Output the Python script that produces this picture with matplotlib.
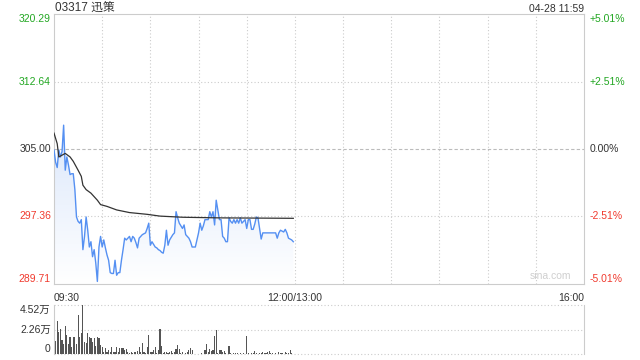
import numpy as np
import matplotlib
matplotlib.use("Agg")
import matplotlib.pyplot as plt
import matplotlib.transforms as mtransforms

plt.rcParams['font.family'] = ['Liberation Sans', 'Noto Sans CJK SC', 'DejaVu Sans']

# ---- data ----
title = "03317 迅策"
stamp = "04-28 11:59"
prev_close = 305.00
price_ticks = [289.71, 297.36, 305.00, 312.64, 320.29]
pct_labels = ["-5.01%", "-2.51%", "0.00%", "+2.51%", "+5.01%"]
time_labels = ["09:30", "12:00/13:00", "16:00"]
time_ticks = [0, 150, 330]   # session minutes (lunch break removed)

# last price, one value per minute from 09:30 to 11:59
price = [
    304.9, 303.5, 302.9, 304.9, 304.1, 304.7, 307.7, 302.6, 304.1, 303.2,
    302.1, 302.2, 302.2, 300.4, 297.3, 296.8, 296.6, 297.0, 293.6, 295.1,
    297.3, 295.8, 293.9, 294.5, 292.8, 293.6, 292.1, 290.0, 293.9, 295.1,
    293.9, 294.7, 293.8, 293.0, 292.4, 291.0, 290.9, 290.9, 292.4, 290.7,
    291.0, 291.0, 292.4, 293.6, 294.9, 294.7, 294.9, 295.1, 294.5, 295.1,
    294.9, 294.4, 293.8, 294.9, 295.1, 295.3, 295.4, 295.5, 296.0, 296.6,
    294.1, 294.5, 294.2, 293.9, 293.8, 293.6, 293.5, 293.3, 293.2, 294.1,
    295.8, 294.1, 294.7, 295.0, 295.3, 295.5, 297.9, 297.2, 296.6, 296.3,
    296.0, 296.4, 295.3, 295.1, 294.9, 294.5, 293.9, 293.9, 293.9, 294.7,
    295.5, 296.6, 295.8, 296.3, 297.0, 297.0, 297.0, 297.9, 297.3, 297.9,
    296.4, 299.2, 298.1, 297.0, 297.0, 295.1, 294.9, 294.5, 294.5, 297.2,
    296.8, 296.6, 297.0, 296.6, 297.0, 296.6, 297.2, 296.6, 296.8, 297.0,
    296.0, 297.0, 297.0, 295.9, 295.9, 296.5, 297.3, 297.2, 296.0, 294.8,
    295.5, 295.5, 295.5, 295.5, 295.5, 295.5, 295.5, 295.5, 295.5, 294.9,
    295.5, 295.8, 295.7, 295.6, 295.9, 295.5, 294.9, 294.8, 294.7, 294.5,
]

# average price line, read at its turning points
avg_minutes = [0, 2, 3, 5, 7, 10, 12, 15, 17, 18, 20, 23, 27, 29, 33, 39, 47, 58, 66, 80, 103, 149]
avg_price = [306.8, 305.6, 304.1, 304.3, 304.5, 304.1, 303.6, 302.6, 301.9, 300.9, 300.4,
             300.0, 299.2, 298.7, 298.5, 298.1, 297.8, 297.6, 297.4, 297.27, 297.2, 297.15]

# volume (shares) per minute
volume = [
    16000, 12000, 30400, 20600, 22800, 12900, 8900, 25800, 17500, 8900,
    15400, 6800, 15400, 15700, 9000, 36000, 15400, 19100, 45200, 11400,
    9800, 19100, 16000, 15100, 11400, 15100, 7700, 16000, 14500, 8300,
    6100, 2150, 5200, 2150, 3700, 1500, 6800, 2150, 2150, 6800,
    2150, 5200, 5800, 5200, 3700, 4300, 1500, 600, 1500, 900,
    2150, 1500, 2800, 6800, 1500, 10000, 1500, 900, 6800, 17500,
    2150, 1500, 3700, 6800, 900, 3700, 22900, 7600, 900, 1800,
    1800, 600, 1800, 2400, 900, 1800, 4900, 8500, 4900, 900,
    1800, 300, 900, 1800, 3900, 5500, 3900, 300, 300, 300,
    300, 300, 600, 300, 4000, 9500, 1800, 4900, 2400, 3300,
    16200, 21700, 900, 3900, 3900, 1800, 2400, 900, 300, 7600,
    900, 300, 900, 900, 900, 300, 900, 300, 900, 300,
    16200, 900, 300, 900, 900, 2400, 900, 300, 900, 900,
    1800, 900, 900, 1800, 2400, 900, 900, 300, 900, 300,
    1800, 900, 900, 300, 1800, 900, 900, 3400, 900, 300,
]
vol_ticks = [0, 22600, 45200]
vol_labels = ["0", "2.26万", "4.52万"]

GREEN = '#22a722'
RED = '#f03a2e'
DARK = '#333333'
GRID = '#cccccc'
FS = 7.5

fig = plt.figure(figsize=(6.4, 3.6), dpi=100)
ax = fig.add_axes([54 / 640, 1 - 284 / 360, 530 / 640, 270 / 360])
axv = fig.add_axes([54 / 640, 1 - 354 / 360, 530 / 640, 49 / 360])

minutes = np.arange(len(price))
ymin, ymax = price_ticks[0], price_ticks[-1]

# gradient fill under the price line
poly = ax.fill_between(minutes, price, ymin, color='none', lw=0)
grad = np.linspace(0, 1, 256).reshape(-1, 1)
img = ax.imshow(grad, extent=[0, len(price) - 1, ymin, max(price)], origin='lower',
                aspect='auto', cmap=matplotlib.colors.LinearSegmentedColormap.from_list(
                    'g', ['#ffffff', '#dbe7fb']), zorder=1)
img.set_clip_path(poly.get_paths()[0], transform=ax.transData)

ax.plot(minutes, price, color='#5590f2', lw=1.0, zorder=3)
ax.plot(avg_minutes, avg_price, color='#333333', lw=0.9, zorder=4)

ax.set_xlim(0, 330)
ax.set_ylim(ymin, ymax)

# grid
for xv in range(30, 330, 30):
    ax.axvline(xv, color=GRID, lw=0.8, ls=(0, (1, 2)), zorder=0)
for yv in price_ticks[1:-1]:
    if yv == prev_close:
        ax.axhline(yv, color='#bbbbbb', lw=0.8, ls=(0, (3, 2)), zorder=0)
    else:
        ax.axhline(yv, color=GRID, lw=0.8, ls=(0, (1, 2)), zorder=0)

for s in ax.spines.values():
    s.set_color(GRID)
    s.set_linewidth(0.8)
ax.set_xticks([])
ax.set_yticks([])

# price & percent labels
trans = mtransforms.blended_transform_factory(ax.transAxes, ax.transData)
for i, (yv, pl) in enumerate(zip(price_ticks, pct_labels)):
    col = RED if yv < prev_close else (GREEN if yv > prev_close else DARK)
    va = 'bottom' if i == 0 else ('top' if i == len(price_ticks) - 1 else 'center')
    ax.text(-0.006, yv, f"{yv:.2f}", transform=trans, ha='right', va=va, color=col, fontsize=FS)
    ax.text(1.01, yv, pl, transform=trans, ha='left', va=va, color=col, fontsize=FS)

# time labels
for t, lab in zip(time_ticks, time_labels):
    ha = 'left' if t == 0 else ('right' if t == 330 else 'center')
    ax.text(t, ymin - 1.0, lab, ha=ha, va='top', color=DARK, fontsize=FS)

ax.text(0.002, 1.008, title, transform=ax.transAxes, ha='left', va='baseline', color=DARK, fontsize=8.5)
ax.text(1.0, 1.008, stamp, transform=ax.transAxes, ha='right', va='baseline', color=DARK, fontsize=FS)
ax.text(0.975, 0.012, "sina.com", transform=ax.transAxes, ha='right', va='bottom',
        color='#cfcfcf', fontsize=FS)

# volume panel
axv.bar(np.arange(len(volume)), volume, width=0.7, color='#555555', zorder=2)
axv.set_xlim(0, 330)
axv.set_ylim(0, vol_ticks[-1])
for yv in vol_ticks:
    axv.axhline(yv, color=GRID, lw=0.8, ls=(0, (1, 2)), zorder=0, clip_on=False)
for side in ['top', 'bottom']:
    axv.spines[side].set_visible(False)
for side in ['left', 'right']:
    axv.spines[side].set_color(GRID)
    axv.spines[side].set_linewidth(0.8)
axv.set_xticks([])
axv.set_yticks([])
for i, (yv, lab) in enumerate(zip(vol_ticks, vol_labels)):
    va = 'bottom' if i == 0 else ('top' if i == len(vol_ticks) - 1 else 'center')
    axv.text(-0.006, yv, lab, transform=mtransforms.blended_transform_factory(axv.transAxes, axv.transData),
             ha='right', va=va, color=DARK, fontsize=FS)

fig.savefig("out.png", dpi=100)
